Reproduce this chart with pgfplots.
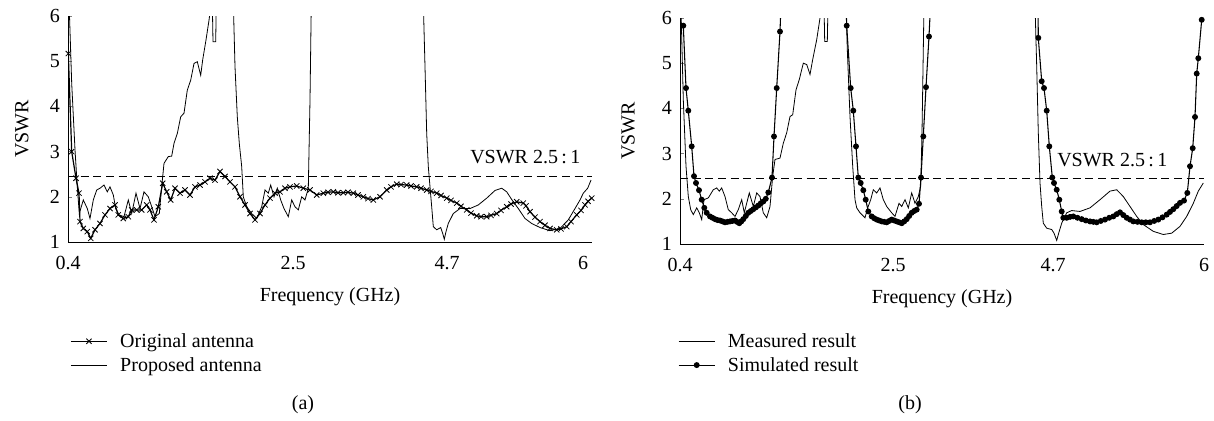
\documentclass[border=0pt]{standalone}
\usepackage{fontspec}
\setmainfont{Liberation Serif}
\usepackage{pgfplots}
\pgfplotsset{compat=1.18}
\begin{document}
\begin{tikzpicture}[x=1pt,y=1pt]
\useasboundingbox (0,0) rectangle (910.5,315.75);
\pgfplotsset{
  vswrstyle/.style={
    width=393pt, height=169.5pt, scale only axis,
    xmin=0, xmax=524, ymin=1, ymax=6,
    axis lines=left, axis line style={-, line width=0.7pt},
    ytick={1,2,3,4,5,6},
    tick align=inside, major tick length=3pt,
    xtick style={draw=none},
    /pgf/number format/assume math mode=true,
    tick label style={font=\fontsize{15}{17}\selectfont},
    yticklabel style={xshift=-2.5pt},
    xticklabel style={yshift=-7pt},
    label style={font=\fontsize{15}{17}\selectfont},
    legend style={draw=none, fill=none, font=\fontsize{15}{17}\selectfont,
      inner sep=0pt, nodes={inner sep=1.5pt}, cells={anchor=west}, row sep=3pt, anchor=north west,
      /tikz/every odd column/.append style={column sep=8pt}},
    legend image code/.code={\draw[mark repeat=2,mark phase=2,##1] plot coordinates {(0pt,0pt) (13.5pt,0pt) (27pt,0pt)};},
  }
}
% ---------------- Panel (a) ----------------
\begin{axis}[vswrstyle, at={(51pt,134.25pt)}, anchor=south west,
  xtick={0,225,379,515}, xticklabels={0.4,2.5,4.7,6},
  xlabel={Frequency (GHz)}, ylabel={VSWR},
  xlabel style={at={(axis description cs:0.5,-0.24)}, anchor=center},
  ylabel style={at={(axis description cs:-0.088,0.5)}, anchor=center},
  legend style={at={(axis description cs:0.004,-0.394)}},
]
\addplot[black, dash pattern=on 6pt off 3.5pt, line width=0.6pt, forget plot] coordinates {(0,2.45) (524,2.45)};
\addplot[black, line width=0.9pt, mark=x, mark size=2.8pt, mark options={line width=0.6pt}] coordinates {
(0.3,5.17) (3.7,3.0) (8,2.41) (11,2.08) (12,1.45) (15.3,1.3) (19.3,1.23) (22.7,1.08) (27,1.27) (32,1.41) (37,1.6) (42,1.74) (47,1.82) (50.3,1.6) (55.3,1.52) (60.3,1.56) (63.7,1.71) (68.7,1.71) (73.7,1.71) (78.7,1.82) (82,1.71) (86,1.49) (90.3,1.78) (94.7,2.3) (98.7,2.11) (102.7,1.93) (107,2.19) (112,2.08) (117,2.15) (122,2.04) (127,2.22) (132,2.26) (137,2.33) (142,2.41) (147,2.37) (152,2.56) (157,2.45) (162,2.33) (167,2.22) (172,2.0) (177,1.82) (182,1.63) (187,1.49) (192,1.63) (197,1.82) (202,1.97) (207,2.08) (212,2.11) (217,2.19) (222,2.22) (228.7,2.24) (235.3,2.19) (242,2.15) (248.7,2.04) (255.3,2.08) (260,2.1) (265.3,2.11) (270,2.09) (275.3,2.09) (280,2.1) (285.3,2.08) (290,2.04) (295.3,2.0) (300,1.96) (305.3,1.93) (312,2.0) (318.7,2.15) (323,2.22) (328.7,2.28) (333,2.27) (338.7,2.26) (343,2.24) (348.7,2.22) (353,2.19) (358.7,2.15) (363,2.12) (368.7,2.08) (373,2.03) (378.7,1.97) (383,1.92) (388.7,1.86) (393,1.79) (398.7,1.71) (403,1.64) (408.7,1.58) (413,1.56) (418.7,1.56) (423,1.59) (428.7,1.63) (433,1.7) (438.7,1.78) (443,1.84) (448.7,1.89) (455.3,1.86) (458,1.8) (462,1.67) (467,1.55) (472,1.45) (477,1.37) (482,1.3) (488.7,1.27) (493,1.29) (498.7,1.34) (503,1.45) (508.7,1.6) (513,1.7) (517,1.82) (520,1.9) (523.7,1.97)
};
\addlegendentry{Original antenna}
\addplot[black, line width=0.6pt] coordinates {
(0,7) (1,6.35) (3.7,4.51) (7,3.04) (9.3,2.22) (11.3,1.63) (15.3,1.93) (19.3,1.74) (22,1.52) (25.3,1.93) (28.7,2.15) (32,2.19) (36,2.26) (39.3,2.11) (42,2.22) (45.3,2.04) (47.7,1.74) (51,1.6) (56,1.56) (60.3,1.93) (63.7,1.63) (68,2.08) (72,1.74) (76,2.11) (80.3,2.0) (83.7,1.78) (87,1.56) (91.3,1.63) (93.7,2.22) (96,2.74) (100.3,2.89) (103.7,2.9) (106,3.18) (109.3,3.4) (112.7,3.77) (116,3.85) (119.3,4.36) (122.7,4.58) (126,4.95) (129.3,4.99) (132.7,4.69) (134.7,5.03) (138,5.47) (141.3,5.95) (142.7,6.3) (144.3,6.3) (145,5.43) (147.7,5.43) (148.3,6.3) (165.3,6.3) (167,4.88) (169.3,3.77) (171.3,3.18) (173.7,2.67) (175.3,2.0) (178.7,1.78) (183.7,1.63) (188.7,1.52) (193.7,1.78) (197,2.15) (200.3,2.08) (202.7,2.26) (206,2.0) (209.3,2.19) (212.7,1.93) (216,1.74) (220.3,1.56) (223.7,1.93) (227,1.78) (230.3,1.71) (233.7,2.0) (237,1.93) (240.3,2.19) (242,4.14) (243.3,6.3) (355.3,6.3) (357,4.88) (358.7,3.4) (360.3,2.67) (362,2.22) (363.7,1.78) (365.3,1.34) (368.7,1.27) (372.7,1.32) (374.7,1.19) (376.3,1.06) (378,1.23) (380.3,1.41) (385.3,1.63) (392,1.74) (402,1.74) (410.3,1.82) (418.7,1.97) (427,2.14) (433.7,2.19) (438.7,2.11) (443.7,1.94) (450.3,1.74) (457,1.52) (463.7,1.41) (472,1.32) (482,1.25) (492,1.3) (500.3,1.49) (507,1.74) (512,1.93) (515.3,2.08) (519.7,2.19) (523,2.37)
};
\addlegendentry{Proposed antenna}
\node[anchor=east, font=\fontsize{15}{17}\selectfont] at (axis cs:517,2.88) {VSWR 2.5\,:\,1};
\end{axis}
% ---------------- Panel (b) ----------------
\begin{axis}[vswrstyle, at={(510pt,132.75pt)}, anchor=south west,
  xtick={0,213,373,524}, xticklabels={0.4,2.5,4.7,6},
  xlabel={Frequency (GHz)}, ylabel={VSWR},
  xlabel style={at={(axis description cs:0.5,-0.24)}, anchor=center},
  ylabel style={at={(axis description cs:-0.099,0.5)}, anchor=center},
  legend style={at={(axis description cs:-0.004,-0.385)}},
]
\addplot[black, dash pattern=on 6pt off 3.5pt, line width=0.6pt, forget plot] coordinates {(0,2.46) (524,2.46)};
\addplot[black, line width=0.6pt] coordinates {
(0,7) (1,6.2) (3.3,4.19) (6,2.72) (8.3,2.05) (10.7,1.76) (13.3,1.65) (16.7,1.8) (19.3,1.69) (21.7,1.54) (24,1.98) (28.3,2.02) (33.3,2.2) (36.7,2.24) (39.3,2.17) (41.7,2.24) (45,2.05) (48.3,1.76) (51.7,1.69) (55,1.61) (58.3,1.76) (61.7,1.98) (64.3,1.69) (69.3,2.13) (73.3,1.83) (76.7,2.13) (80,2.05) (83.3,1.69) (86.7,1.58) (90,1.83) (92.7,2.5) (95,2.87) (100,2.9) (103.3,3.23) (106.7,3.46) (110,3.82) (112.7,3.86) (116,4.41) (119.3,4.64) (123.3,5.0) (126.7,4.97) (130,4.75) (132.7,5.08) (136.7,5.52) (140,6.0) (141.7,6.3) (144,6.3) (144.7,5.48) (147.3,5.48) (148,6.3) (166,6.3) (167.3,5.3) (170,3.82) (172.7,2.72) (175,1.98) (176.7,1.8) (180,1.69) (185,1.58) (187.7,1.8) (190.7,1.98) (193.3,2.2) (196.7,2.13) (200,2.24) (203.3,1.98) (206.7,1.83) (211.7,1.69) (215,1.61) (219,1.9) (221.7,1.83) (225,1.98) (228.3,1.8) (231.7,2.13) (235,1.9) (238.3,2.05) (240.7,2.28) (242,3.46) (243.3,5.3) (244,6.3) (355,6.3) (356.7,4.93) (358.3,3.46) (360,2.35) (361.7,1.83) (363.3,1.46) (366.7,1.35) (371.7,1.32) (374,1.24) (376.7,1.08) (378.7,1.24) (381.7,1.46) (386.7,1.69) (391.7,1.74) (400,1.72) (410,1.8) (420,1.98) (430,2.17) (436.7,2.2) (443.3,2.05) (450,1.83) (456.7,1.61) (463.3,1.43) (473.3,1.28) (483.3,1.21) (491.7,1.24) (500,1.39) (506.7,1.61) (513.3,1.9) (518.3,2.17) (523.3,2.35)
};
\addlegendentry{Measured result}
\addplot[black, line width=0.8pt, mark=*, mark size=1.8pt] coordinates {
(3.3,5.83) (6,4.45) (8.3,3.95) (11.7,3.16) (14,2.5) (16,2.35) (19,2.19) (21.7,1.98) (24.3,1.8) (26.7,1.69) (30,1.61) (32.5,1.58) (35,1.55) (37.5,1.53) (40,1.52) (42.5,1.5) (45,1.48) (47.5,1.49) (50,1.5) (52.5,1.51) (55,1.52) (57,1.49) (59.3,1.46) (61.3,1.5) (63.3,1.55) (65.8,1.62) (68.3,1.69) (70.8,1.73) (73.3,1.77) (75.8,1.81) (78.3,1.85) (80.8,1.9) (83.3,1.94) (85.8,2.0) (88.3,2.14) (92,2.47) (94,3.38) (96.7,4.45) (100,5.7) (101,6.3)
(166,6.3) (166.7,5.83) (170.7,4.45) (173.3,3.95) (176,3.16) (178.3,2.47) (180.7,2.35) (183.3,2.19) (185.7,1.98) (188.3,1.72) (191.7,1.61) (194.2,1.57) (196.7,1.54) (199.2,1.52) (201.7,1.5) (204.2,1.49) (206.7,1.48) (209.2,1.51) (211.7,1.54) (214.2,1.52) (216.7,1.5) (219.2,1.48) (221.7,1.46) (224.2,1.5) (226.7,1.55) (229.2,1.62) (231.7,1.69) (234.2,1.73) (236.7,1.76) (239,1.89) (241,2.47) (243.3,3.38) (246,4.47) (249,5.59) (250,6.05) (250.7,6.3)
(358,6.3) (358.3,5.56) (361.7,4.6) (364,4.45) (366.7,3.95) (369.3,3.16) (372.3,2.47) (374,2.35) (376.7,2.2) (379.3,1.98) (381.7,1.72) (383.3,1.58) (386.7,1.58) (390,1.6) (393.3,1.61) (397.5,1.58) (401.7,1.55) (405.8,1.52) (410,1.5) (413.3,1.49) (416.7,1.48) (420.8,1.51) (425,1.54) (429.2,1.58) (433.3,1.61) (436.7,1.66) (440,1.7) (443.3,1.64) (446.7,1.58) (450,1.54) (453.3,1.5) (457.5,1.49) (461.7,1.48) (465.8,1.48) (470,1.48) (474.2,1.51) (478.3,1.54) (482.5,1.59) (486.7,1.65) (490,1.71) (493.3,1.77) (496.7,1.84) (500,1.91) (504,1.96) (507.3,2.13) (510,2.72) (512.7,3.12) (515,3.81) (516.7,4.77) (518.3,5.11) (521.7,5.96) (522.7,6.3)
};
\addlegendentry{Simulated result}
\node[anchor=east, font=\fontsize{15}{17}\selectfont] at (axis cs:492,2.85) {VSWR 2.5\,:\,1};
\end{axis}
\node[font=\fontsize{15}{17}\selectfont] at (227.25,12) {(a)};
\node[font=\fontsize{15}{17}\selectfont] at (682.5,12) {(b)};
\end{tikzpicture}
\end{document}
